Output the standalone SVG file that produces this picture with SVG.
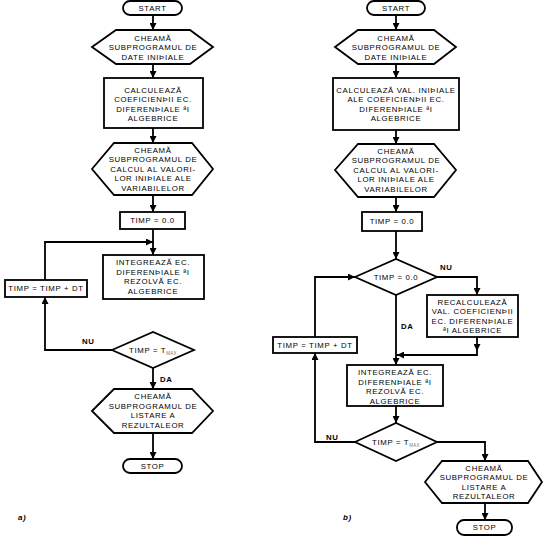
<svg xmlns="http://www.w3.org/2000/svg" width="548" height="540" viewBox="0 0 548 540">
<defs>
<marker id="a" viewBox="0 0 8 8" refX="8" refY="4" markerWidth="7" markerHeight="7" markerUnits="userSpaceOnUse" orient="auto"><path d="M0,0 L8,4 L0,8 z" fill="#000"/></marker>
<style>
.s{fill:#fff;stroke:#000;stroke-width:1.8}
.c{fill:none;stroke:#000;stroke-width:1.8;marker-end:url(#a)}
text{font-family:"Liberation Sans",Arial,sans-serif;font-size:7.8px;letter-spacing:0.65px;fill:#000;text-anchor:middle;dominant-baseline:central}
.lb{font-weight:bold;text-anchor:start}
.sub{font-size:4.5px;fill:#777;letter-spacing:0.3px}
.cap{font-style:italic;font-weight:bold;text-anchor:start;font-size:8px}
</style>
</defs>
<rect width="548" height="540" fill="#fff"/>
<g id="connectors">
<path class="c" d="M153,15 V30"/>
<path class="c" d="M153,64 V78"/>
<path class="c" d="M153,128 V143"/>
<path class="c" d="M153,195 V212"/>
<path class="c" d="M153,229 V255"/>
<path class="c" d="M45,280 V242 H153"/>
<path class="c" d="M112,350 H45 V297"/>
<path class="c" d="M153,368 V389"/>
<path class="c" d="M153,433 V459"/>
<path class="c" d="M396,15 V30"/>
<path class="c" d="M396,64 V78"/>
<path class="c" d="M396,130 V144"/>
<path class="c" d="M396,197 V212"/>
<path class="c" d="M396,231 V259"/>
<path class="c" d="M315,337 V277 H355"/>
<path class="c" d="M437,277 H477 V295"/>
<path class="c" d="M477,337 V351"/>
<path class="c" d="M477,351 V355 H397"/>
<path class="c" d="M396,295 V365"/>
<path class="c" d="M396,406 V423"/>
<path class="c" d="M355,442 H315 V353"/>
<path class="c" d="M437,442 H485 V461"/>
<path class="c" d="M485,503 V520"/>
</g>
<g id="startA"><rect class="s" x="123" y="1" width="59" height="14" rx="7"/><text x="152.5" y="8">START</text></g>
<g id="hex1A"><polygon class="s" points="92,47 116,30 190,30 213,47 190,64 116,64"/><text x="153" y="38">CHEAMĂ</text><text x="153" y="47.5">SUBPROGRAMUL DE</text><text x="153" y="57">DATE INIÞIALE</text></g>
<g id="rect1A"><rect class="s" x="104" y="78" width="99" height="50"/><text x="153" y="90">CALCULEAZĂ</text><text x="153" y="99.5">COEFICIENÞII EC.</text><text x="153" y="109">DIFERENÞIALE ªI</text><text x="153" y="118">ALGEBRICE</text></g>
<g id="hex2A"><polygon class="s" points="92,169 114,143 192,143 213,169 192,195 114,195"/><text x="153" y="150">CHEAMĂ</text><text x="153" y="159.5">SUBPROGRAMUL DE</text><text x="153" y="169">CALCUL AL VALORI-</text><text x="153" y="178.5">LOR INIÞIALE ALE</text><text x="153" y="188">VARIABILELOR</text></g>
<g id="timp0A"><rect class="s" x="120" y="212" width="65" height="17"/><text x="152.5" y="220.5">TIMP = 0.0</text></g>
<g id="integA"><rect class="s" x="103" y="255" width="101" height="44"/><text x="153" y="262.5">INTEGREAZĂ EC.</text><text x="153" y="272">DIFERENÞIALE ªI</text><text x="153" y="281.5">REZOLVĂ  EC.</text><text x="153" y="291">ALGEBRICE</text></g>
<g id="timpdtA"><rect class="s" x="5" y="280" width="82" height="17"/><text x="46" y="288.5">TIMP = TIMP + DT</text></g>
<g id="decA"><polygon class="s" points="112,350 153,332 194,350 153,368"/><text x="153" y="350">TIMP = T<tspan class="sub" dy="2.5">MAX</tspan></text></g>
<g id="hex3A"><polygon class="s" points="92,411 114,389 192,389 213,411 192,433 114,433"/><text x="153" y="396.5">CHEAMĂ</text><text x="153" y="406">SUBPROGRAMUL DE</text><text x="153" y="415.5">LISTARE A</text><text x="153" y="425">REZULTALEOR</text></g>
<g id="stopA"><rect class="s" x="123" y="459" width="59" height="14" rx="7"/><text x="152.5" y="466">STOP</text></g>
<text class="lb" x="82" y="341">NU</text>
<text class="lb" x="160" y="379">DA</text>
<text class="cap" x="18" y="517">a)</text>
<g id="startB"><rect class="s" x="367" y="1" width="58" height="14" rx="7"/><text x="396" y="8">START</text></g>
<g id="hex1B"><polygon class="s" points="335,47 358,30 434,30 456,47 434,64 358,64"/><text x="396" y="38">CHEAMĂ</text><text x="396" y="47.5">SUBPROGRAMUL DE</text><text x="396" y="57">DATE INIÞIALE</text></g>
<g id="rect1B"><rect class="s" x="333" y="78" width="126" height="52"/><text x="396" y="90">CALCULEAZĂ VAL. INIÞIALE</text><text x="396" y="99.5">ALE COEFICIENÞII EC.</text><text x="396" y="109">DIFERENÞIALE ªI</text><text x="396" y="118.5">ALGEBRICE</text></g>
<g id="hex2B"><polygon class="s" points="335,170 358,144 434,144 456,170 434,197 358,197"/><text x="396" y="151">CHEAMĂ</text><text x="396" y="160.5">SUBPROGRAMUL DE</text><text x="396" y="170">CALCUL AL VALORI-</text><text x="396" y="179.5">LOR INIÞIALE ALE</text><text x="396" y="189">VARIABILELOR</text></g>
<g id="timp0B"><rect class="s" x="362" y="212" width="60" height="19"/><text x="392" y="221.5">TIMP = 0.0</text></g>
<g id="dec1B"><polygon class="s" points="355,277 396,259 437,277 396,295"/><text x="396" y="277">TIMP = 0.0</text></g>
<g id="recalcB"><rect class="s" x="427" y="295" width="91" height="42"/><text x="472.5" y="302">RECALCULEAZĂ</text><text x="472.5" y="311.5">VAL. COEFICIENÞII</text><text x="472.5" y="321">EC. DIFERENÞIALE</text><text x="472.5" y="330.5">ªI ALGEBRICE</text></g>
<g id="timpdtB"><rect class="s" x="273" y="337" width="84" height="16"/><text x="315" y="345">TIMP = TIMP + DT</text></g>
<g id="integB"><rect class="s" x="347" y="365" width="96" height="41"/><text x="395" y="372.5">INTEGREAZĂ EC.</text><text x="395" y="382">DIFERENÞIALE ªI</text><text x="395" y="391.5">REZOLVĂ  EC.</text><text x="395" y="401">ALGEBRICE</text></g>
<g id="dec2B"><polygon class="s" points="355,442 396,423 437,442 396,461"/><text x="396" y="442">TIMP = T<tspan class="sub" dy="2.5">MAX</tspan></text></g>
<g id="hex3B"><polygon class="s" points="425,482 442,461 528,461 542,482 528,503 442,503"/><text x="484" y="468">CHEAMĂ</text><text x="484" y="477.5">SUBPROGRAMUL DE</text><text x="484" y="487">LISTARE A</text><text x="484" y="496.5">REZULTALEOR</text></g>
<g id="stopB"><rect class="s" x="457" y="520" width="55" height="15" rx="7"/><text x="484.5" y="527.5">STOP</text></g>
<text class="lb" x="440" y="267">NU</text>
<text class="lb" x="401" y="326">DA</text>
<text class="lb" x="326" y="437">NU</text>
<text class="cap" x="343" y="517">b)</text>
</svg>
